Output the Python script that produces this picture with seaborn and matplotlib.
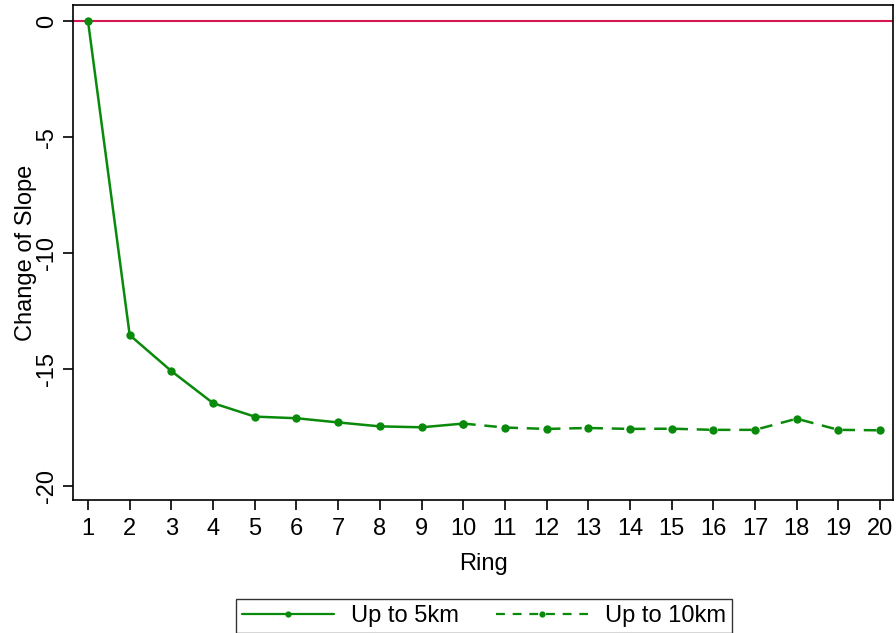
import matplotlib
matplotlib.use("Agg")
import matplotlib.pyplot as plt
import seaborn as sns
import pandas as pd
from matplotlib.lines import Line2D

rings_5km = [1, 2, 3, 4, 5, 6, 7, 8, 9, 10]
slope_5km = [0.0, -13.52, -15.07, -16.45, -17.03, -17.10, -17.28, -17.45, -17.49, -17.33]
rings_10km = [10, 11, 12, 13, 14, 15, 16, 17, 18, 19, 20]
slope_10km = [-17.33, -17.50, -17.56, -17.52, -17.56, -17.55, -17.60, -17.60, -17.12, -17.60, -17.62]
xticks = list(range(1, 21))
yticks = [0, -5, -10, -15, -20]

sns.set_style("white", rc={'text.color': 'black', 'axes.labelcolor': 'black',
                           'xtick.color': 'black', 'ytick.color': 'black'})
plt.rcParams['font.family'] = ['Liberation Sans', 'DejaVu Sans']

green = '#0A8A0A'
red = '#D4174F'
fs = 17

fig = plt.figure(figsize=(8.96, 6.33), dpi=100)
ax = fig.add_axes([73/896, (633-500)/633, (893-73)/896, (500-5)/633])

df5 = pd.DataFrame({'Ring': rings_5km, 'Slope': slope_5km})
df10 = pd.DataFrame({'Ring': rings_10km, 'Slope': slope_10km})

ax.axhline(0, color=red, lw=1.5, zorder=1)
sns.lineplot(data=df10, x='Ring', y='Slope', ax=ax, color=green, lw=1.8,
             marker='o', markersize=6, markeredgewidth=0,
             linestyle=(0, (5, 3.5)), zorder=3)
sns.lineplot(data=df5, x='Ring', y='Slope', ax=ax, color=green, lw=1.8,
             marker='o', markersize=6, markeredgewidth=0, zorder=4)

ax.set_xlim(0.64, 20.31)
ax.set_ylim(-20.62, 0.69)
ax.set_xticks(xticks)
ax.set_xticklabels([str(t) for t in xticks], fontsize=fs)
ax.set_yticks(yticks)
ax.set_yticklabels([str(t) for t in yticks], fontsize=fs, rotation=90, va='center')
ax.tick_params(axis='both', direction='out', length=7, width=1.2, color='black',
               bottom=True, left=True)
ax.tick_params(axis='y', pad=4)
ax.tick_params(axis='x', pad=6)
for s in ax.spines.values():
    s.set_color('black')
    s.set_linewidth(1.2)
ax.set_xlabel('Ring', fontsize=fs, labelpad=9)
ax.set_ylabel('Change of Slope', fontsize=fs, labelpad=-1)

handles = [
    Line2D([0], [0], color=green, lw=1.6, marker='o', markersize=4.5, markeredgewidth=0),
    Line2D([0], [0], color=green, lw=1.6, linestyle=(0, (4, 3.5)), marker='o',
           markersize=4.5, markeredgewidth=0),
]
leg = fig.legend(handles, ['Up to 5km', 'Up to 10km'], loc='center',
                 bbox_to_anchor=(484/896, (633-616)/633), ncol=2, fontsize=fs,
                 frameon=True, fancybox=False, edgecolor='black', handlelength=3.9,
                 columnspacing=1.6, handletextpad=0.7, borderpad=0.25)
leg.get_frame().set_linewidth(1.0)

fig.savefig('out.png', dpi=100)
